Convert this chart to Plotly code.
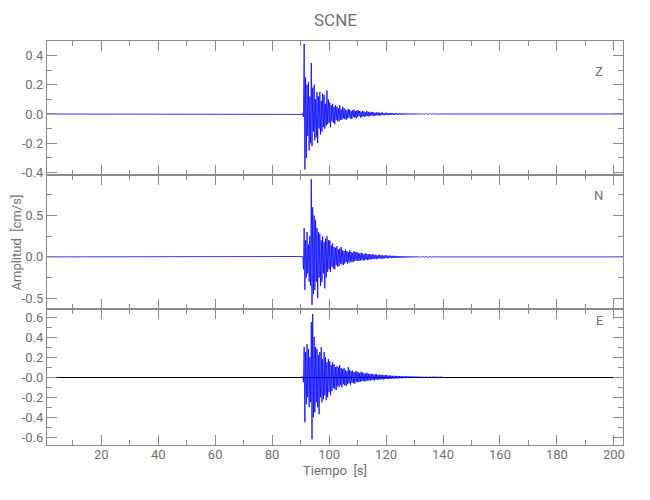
import plotly.graph_objects as go
from plotly.subplots import make_subplots

# ---------------- data ----------------
TITLE = "SCNE"
COMPONENTS = ["Z", "N", "E"]
RECORD_START = 0.95      # s, first sample of the record
RECORD_END = 203.2       # s, last sample of the record
BURST_START = 90.0       # s, first sample of the digitised burst
BURST_DT = 0.25          # s, sample interval of the digitised burst

# amplitudes in 0.001 cm/s, one sample every BURST_DT from BURST_START
Z_MILLI = [
    0, 2, -3, 4, -20, 480, -380, 250, -300, 200, -150, 220, -250, 120, -200, 350, -220, 180, -120, 200,
    -180, 100, -160, 150, -200, 120, -100, 150, -140, 90, -120, 140, -90, 130, -100, 70, -80, 160, -70, 100,
    -60, 80, -90, 60, -50, 70, -60, 50, -70, 60, -40, 50, -50, 40, -50, 60, -40, 30, -40, 50,
    -30, 40, -35, 30, -40, 25, -30, 35, -25, 30, -30, 20, -35, 25, -20, 30, -25, 20, -30, 25,
    -20, 25, -15, 20, -25, 15, -20, 20, -15, 18, -20, 12, -15, 20, -12, 15, -18, 10, -12, 15,
    -10, 14, -12, 10, -15, 8, -10, 12, -8, 10, -12, 8, -10, 9, -7, 10, -8, 6, -9, 8,
    -6, 8, -7, 6, -8, 5, -6, 7, -5, 6, -7, 5, -6, 5, -4, 6, -5, 4, -5, 6,
    -4, 5, -4, 4, -5, 3, -4, 5, -3, 4, -4, 3, -4, 3, -3, 4, -3, 3, -4, 3,
    -3, 3, -2, 3, -3, 2, -3, 3, -2, 3, -2, 2, -3, 2, -2, 3, -2, 2, -2, 2,
    -2, 2, -2, 2, -2, 1, -2, 2, -1, 2, -2, 1, -2, 1, -1, 2, -1, 1, -1, 1,
    0,
]
N_MILLI = [
    0, 3, -4, 5, -150, 350, -400, 200, -250, 300, -200, 150, -300, 250, -350, 940, -580, 600, -450, 500,
    -400, 450, -300, 350, -500, 300, -250, 280, -350, 200, -300, 250, -200, 180, -380, 220, -250, 250, -180, 200,
    -150, 200, -180, 140, -120, 160, -140, 120, -150, 110, -100, 130, -120, 90, -110, 100, -80, 120, -90, 80,
    -100, 70, -80, 90, -60, 70, -80, 60, -70, 80, -55, 60, -65, 50, -60, 70, -50, 55, -45, 60,
    -45, 50, -50, 40, -45, 50, -35, 40, -45, 35, -40, 45, -30, 35, -38, 30, -35, 35, -28, 30,
    -30, 28, -25, 30, -22, 25, -28, 20, -24, 22, -20, 25, -18, 20, -22, 18, -20, 16, -18, 20,
    -15, 18, -16, 14, -17, 15, -12, 14, -15, 12, -13, 14, -11, 12, -12, 10, -12, 11, -9, 10,
    -10, 9, -9, 10, -8, 8, -9, 7, -8, 8, -7, 8, -6, 7, -7, 6, -7, 6, -5, 6,
    -6, 5, -5, 6, -4, 5, -5, 4, -5, 4, -4, 5, -4, 4, -3, 4, -4, 3, -3, 4,
    -3, 3, -3, 3, -3, 2, -3, 3, -2, 2, -2, 3, -2, 2, -2, 2, -2, 2, -1, 2,
    0,
]
E_MILLI = [
    0, 3, -3, 4, -50, 300, -450, 250, -270, 330, -200, 280, -300, 200, -250, 550, -620, 630, -400, 400,
    -350, 300, -250, 280, -300, 220, -370, 250, -200, 300, -250, 180, -220, 250, -180, 200, -230, 150, -200, 180,
    -150, 160, -180, 120, -140, 150, -110, 130, -120, 100, -130, 110, -90, 100, -100, 120, -80, 90, -100, 80,
    -70, 90, -80, 70, -90, 60, -70, 100, -60, 70, -75, 60, -55, 65, -60, 50, -65, 55, -50, 60,
    -45, 50, -50, 40, -45, 55, -40, 45, -38, 40, -42, 35, -40, 45, -32, 36, -35, 30, -36, 34,
    -28, 32, -30, 26, -30, 28, -24, 30, -25, 22, -26, 24, -20, 25, -22, 20, -24, 18, -20, 22,
    -16, 20, -18, 15, -18, 16, -14, 16, -15, 13, -15, 14, -12, 14, -13, 11, -13, 12, -10, 12,
    -10, 10, -11, 9, -10, 9, -8, 10, -9, 8, -8, 9, -7, 8, -8, 7, -7, 7, -6, 7,
    -6, 6, -6, 5, -5, 6, -5, 5, -5, 4, -4, 5, -4, 4, -4, 4, -3, 4, -3, 3,
    -3, 3, -3, 3, -2, 3, -2, 2, -2, 3, -2, 2, -2, 2, -2, 2, -1, 2, -1, 1,
    0,
]

X_TICKS = [20, 40, 60, 80, 100, 120, 140, 160, 180, 200]
Z_TICKS = [-0.4, -0.2, 0.0, 0.2, 0.4]
Z_TICKTEXT = ["-0.4", "-0.2", "0.0", "0.2", "0.4"]
N_TICKS = [-0.5, 0.0, 0.5]
N_TICKTEXT = ["-0.5", "0.0", "0.5"]
E_TICKS = [-0.6, -0.4, -0.2, 0.0, 0.2, 0.4, 0.6]
E_TICKTEXT = ["-0.6", "-0.4", "-0.2", "-0.0", "0.2", "0.4", "0.6"]
Y_RANGES = [[-0.418, 0.50], [-0.63, 0.99], [-0.677, 0.68]]
Y_MINOR = [0.1, 0.25, 0.1]

# ---------------- figure ----------------
GREY = "#8a8a8a"
TXT = "#707070"
FONT = "Roboto, Liberation Sans, sans-serif"

fig = make_subplots(rows=3, cols=1, shared_xaxes=True, vertical_spacing=0)

series = [Z_MILLI, N_MILLI, E_MILLI]
for i, vals in enumerate(series):
    t = [BURST_START + k * BURST_DT for k in range(len(vals))]
    y = [v / 1000.0 for v in vals]
    if i < 2:
        t = [RECORD_START] + t + [RECORD_END]
        y = [0.0] + y + [0.0]
    fig.add_trace(
        go.Scatter(x=t, y=y, mode="lines", line=dict(color="#0000ff", width=0.8),
                   showlegend=False, hoverinfo="skip"),
        row=i + 1, col=1,
    )

domains = [[0.6683, 1.0], [0.3366, 0.6683], [0.0, 0.3366]]
ticks = [(Z_TICKS, Z_TICKTEXT), (N_TICKS, N_TICKTEXT), (E_TICKS, E_TICKTEXT)]
for i in range(3):
    r = i + 1
    fig.update_yaxes(
        row=r, col=1, domain=domains[i], range=Y_RANGES[i], automargin=False,
        tickmode="array", tickvals=ticks[i][0], ticktext=ticks[i][1],
        ticks="inside", ticklen=10, tickcolor=GREY, tickwidth=1,
        minor=dict(ticks="inside", ticklen=5, dtick=Y_MINOR[i], tick0=0, tickcolor=GREY),
        showline=True, linecolor=GREY, linewidth=1, mirror="allticks",
        showgrid=False, zeroline=(i == 2), zerolinecolor="#000000", zerolinewidth=1,
        tickfont=dict(family=FONT, size=13, color=TXT),
    )
    fig.update_xaxes(
        row=r, col=1, range=[RECORD_START, RECORD_END], automargin=False,
        tickmode="array", tickvals=X_TICKS, ticktext=[str(v) for v in X_TICKS],
        showticklabels=(i == 2), ticklabelstandoff=-3,
        ticks="inside", ticklen=10, tickcolor=GREY, tickwidth=1,
        minor=dict(ticks="inside", ticklen=5, dtick=10, tick0=0, tickcolor=GREY),
        showline=True, linecolor=GREY, linewidth=1, mirror="allticks",
        showgrid=False, zeroline=False,
        tickfont=dict(family=FONT, size=13, color=TXT),
    )

annotations = [
    dict(text=TITLE, x=0.5, y=1.0, xref="paper", yref="paper", yanchor="bottom",
         yshift=9, showarrow=False, font=dict(family=FONT, size=17, color=TXT)),
    dict(text="Tiempo  [s]", x=0.5, y=0.0, xref="paper", yref="paper", yanchor="top",
         yshift=-16, showarrow=False, font=dict(family=FONT, size=13, color=TXT)),
    dict(text="Amplitud  [cm/s]", x=0.0, y=0.5, xref="paper", yref="paper", xanchor="right",
         xshift=-22, textangle=-90, showarrow=False, font=dict(family=FONT, size=13, color=TXT)),
]
label_y = [0.948, 0.617, 0.284]
for name, ly in zip(COMPONENTS, label_y):
    annotations.append(dict(text=name, x=0.968, y=ly, xref="paper", yref="paper",
                            showarrow=False, font=dict(family=FONT, size=13, color=TXT)))

fig.update_layout(
    width=650, height=500,
    margin=dict(l=39, r=35, t=33, b=63),
    paper_bgcolor="white", plot_bgcolor="white",
    annotations=annotations,
)

fig.write_html("out.html")
